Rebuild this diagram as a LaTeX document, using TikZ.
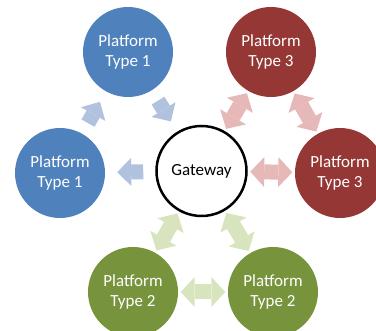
\documentclass[tikz,border=0pt]{standalone}
\usepackage{fontspec}
\setmainfont{Carlito}
\usetikzlibrary{arrows.meta}
\definecolor{platblue}{HTML}{4F81BD}
\definecolor{platred}{HTML}{953735}
\definecolor{platgreen}{HTML}{77933C}
\definecolor{paleblue}{HTML}{B1C2DF}
\definecolor{palered}{HTML}{E6B9B8}
\definecolor{palegreen}{HTML}{D7E4BD}
\begin{document}
\begin{tikzpicture}[
    x=1pt, y=-1pt,
    plat/.style   = {circle, minimum size=90pt, inner sep=0pt, align=center,
                     text=white, font=\fontsize{17}{19.5}\selectfont},
    gate/.style   = {circle, draw, line width=2.5pt, fill=white, minimum size=90pt,
                     inner sep=0pt, font=\fontsize{17}{19.5}\selectfont},
    onearr/.style = {line width=15pt,
                     -{Triangle[length=14pt,width=28pt,line width=0pt]},
                     shorten <=12pt, shorten >=12pt},
    twoarr/.style = {line width=15pt,
                     {Triangle[length=14pt,width=30pt,line width=0pt]}-{Triangle[length=14pt,width=30pt,line width=0pt]},
                     shorten <=2.5pt, shorten >=2.5pt},
  ]
    \useasboundingbox (0,0) rectangle (376,331);

    \node[gate]                  (gw)  at (201.5,171) {Gateway};
    \node[plat, fill=platblue]   (bt)  at (128,52)    {Platform\\Type 1};
    \node[plat, fill=platblue]   (bl)  at (60,173)    {Platform\\Type 1};
    \node[plat, fill=platred]    (rt)  at (271,52)    {Platform\\Type 3};
    \node[plat, fill=platred]    (rr)  at (340,173)   {Platform\\Type 3};
    \node[plat, fill=platgreen]  (gl)  at (133,292)   {Platform\\Type 2};
    \node[plat, fill=platgreen]  (gr)  at (273,292)   {Platform\\Type 2};

    \draw[onearr, paleblue]  (bl) -- (bt);
    \draw[onearr, paleblue]  (bt) -- (gw);
    \draw[onearr, paleblue]  (gw) -- (bl);
    \draw[twoarr, palered]   (gw) -- (rt);
    \draw[twoarr, palered]   (rt) -- (rr);
    \draw[twoarr, palered]   (gw) -- (rr);
    \draw[twoarr, palegreen] (gw) -- (gl);
    \draw[twoarr, palegreen] (gw) -- (gr);
    \draw[twoarr, palegreen] (gl) -- (gr);
  \end{tikzpicture}
\end{document}
